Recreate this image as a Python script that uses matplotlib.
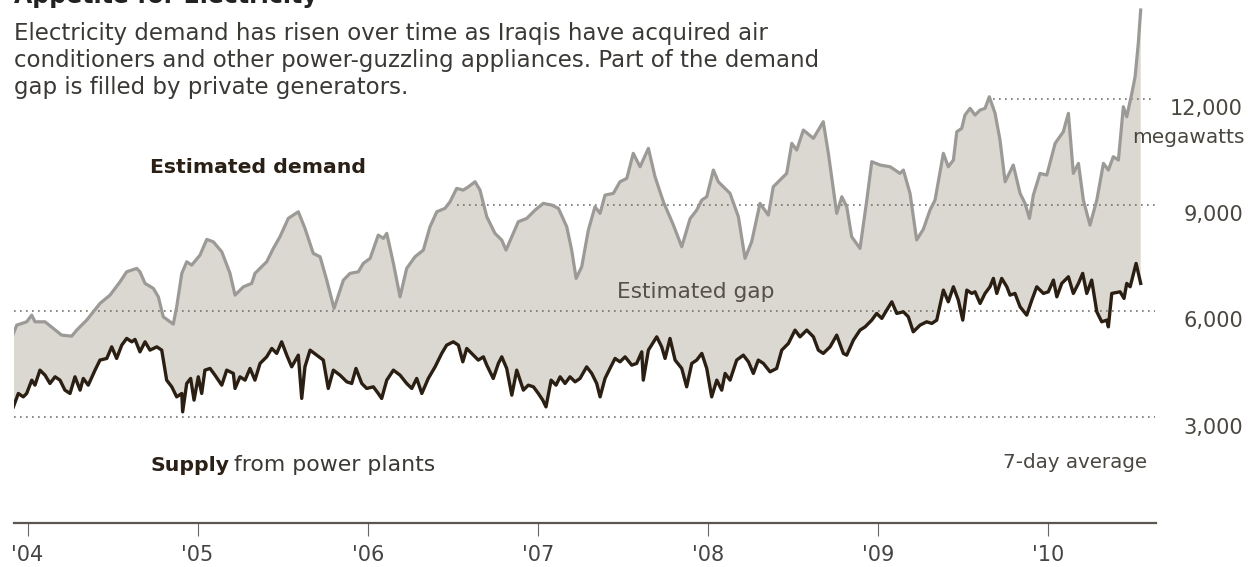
import matplotlib.pyplot as plt

W, H = 1248, 567

# estimated demand, 7-day average (megawatts)
demand_year = [2003.917, 2003.937, 2003.995, 2004.025, 2004.044, 2004.103, 2004.152, 2004.201,
               2004.260, 2004.289, 2004.348, 2004.426, 2004.485, 2004.544, 2004.583, 2004.642,
               2004.661, 2004.691, 2004.740, 2004.769, 2004.798, 2004.857, 2004.877, 2004.907,
               2004.936, 2004.965, 2005.014, 2005.054, 2005.092, 2005.142, 2005.190, 2005.220,
               2005.269, 2005.318, 2005.337, 2005.406, 2005.445, 2005.484, 2005.533, 2005.592,
               2005.631, 2005.680, 2005.720, 2005.759, 2005.802, 2005.857, 2005.896, 2005.945,
               2005.974, 2006.014, 2006.062, 2006.092, 2006.112, 2006.151, 2006.190, 2006.229,
               2006.278, 2006.327, 2006.366, 2006.406, 2006.454, 2006.484, 2006.523, 2006.562,
               2006.591, 2006.631, 2006.660, 2006.700, 2006.748, 2006.788, 2006.813, 2006.847,
               2006.885, 2006.935, 2006.984, 2007.032, 2007.082, 2007.121, 2007.170, 2007.199,
               2007.225, 2007.258, 2007.297, 2007.336, 2007.366, 2007.395, 2007.444, 2007.483,
               2007.523, 2007.561, 2007.601, 2007.650, 2007.689, 2007.738, 2007.797, 2007.846,
               2007.895, 2007.934, 2007.964, 2007.993, 2008.032, 2008.061, 2008.091, 2008.130,
               2008.179, 2008.218, 2008.257, 2008.306, 2008.355, 2008.384, 2008.424, 2008.463,
               2008.493, 2008.522, 2008.561, 2008.620, 2008.678, 2008.708, 2008.757, 2008.787,
               2008.816, 2008.845, 2008.894, 2008.934, 2008.963, 2009.012, 2009.071, 2009.129,
               2009.149, 2009.188, 2009.227, 2009.266, 2009.306, 2009.335, 2009.384, 2009.413,
               2009.443, 2009.463, 2009.492, 2009.511, 2009.541, 2009.570, 2009.600, 2009.629,
               2009.654, 2009.688, 2009.717, 2009.747, 2009.795, 2009.835, 2009.864, 2009.890,
               2009.913, 2009.952, 2009.992, 2010.041, 2010.089, 2010.119, 2010.148, 2010.178,
               2010.207, 2010.246, 2010.286, 2010.325, 2010.354, 2010.383, 2010.413, 2010.442,
               2010.462, 2010.492, 2010.511, 2010.530, 2010.544]
demand_mw = [5355, 5590, 5683, 5872, 5683, 5683, 5496, 5306,
             5278, 5448, 5731, 6203, 6438, 6815, 7098, 7194,
             7098, 6770, 6628, 6390, 5824, 5618, 6107, 7053,
             7381, 7287, 7570, 8015, 7947, 7664, 7060, 6438,
             6674, 6770, 7053, 7381, 7760, 8088, 8609, 8796,
             8326, 7618, 7523, 6863, 6062, 6863, 7053, 7098,
             7336, 7477, 8136, 8043, 8185, 7336, 6390, 7194,
             7523, 7712, 8371, 8796, 8892, 9079, 9458, 9410,
             9500, 9645, 9410, 8655, 8185, 7995, 7712, 8088,
             8513, 8609, 8844, 9033, 8985, 8892, 8371, 7712,
             6911, 7240, 8278, 8937, 8751, 9268, 9316, 9645,
             9741, 10449, 10069, 10590, 9786, 9079, 8419, 7805,
             8600, 8844, 9127, 9221, 9976, 9645, 9503, 9316,
             8655, 7477, 7947, 9033, 8702, 9503, 9693, 9882,
             10731, 10542, 11108, 10873, 11343, 10449, 8751, 9221,
             8937, 8088, 7760, 9127, 10212, 10118, 10069, 9882,
             9976, 9316, 8000, 8300, 8850, 9127, 10449, 10069,
             10260, 11060, 11156, 11532, 11722, 11532, 11674, 11722,
             12050, 11581, 10825, 9645, 10118, 9316, 9033, 8609,
             9268, 9882, 9834, 10731, 11060, 11581, 9882, 10165,
             9127, 8419, 9127, 10165, 9976, 10354, 10260, 11768,
             11484, 12147, 12616, 13562, 14504]

# supply from power plants, 7-day average (megawatts)
supply_year = [2003.917, 2003.946, 2003.975, 2003.995, 2004.025, 2004.044, 2004.073, 2004.103,
               2004.132, 2004.162, 2004.191, 2004.220, 2004.250, 2004.279, 2004.309, 2004.328,
               2004.357, 2004.397, 2004.426, 2004.466, 2004.495, 2004.524, 2004.554, 2004.583,
               2004.613, 2004.632, 2004.661, 2004.691, 2004.720, 2004.760, 2004.789, 2004.818,
               2004.848, 2004.877, 2004.907, 2004.912, 2004.936, 2004.959, 2004.979, 2005.004,
               2005.024, 2005.043, 2005.073, 2005.102, 2005.142, 2005.171, 2005.210, 2005.220,
               2005.249, 2005.279, 2005.308, 2005.337, 2005.367, 2005.406, 2005.436, 2005.465,
               2005.494, 2005.524, 2005.553, 2005.592, 2005.612, 2005.631, 2005.661, 2005.700,
               2005.739, 2005.768, 2005.798, 2005.837, 2005.877, 2005.906, 2005.931, 2005.965,
               2005.994, 2006.033, 2006.062, 2006.082, 2006.112, 2006.151, 2006.190, 2006.229,
               2006.259, 2006.288, 2006.318, 2006.356, 2006.396, 2006.435, 2006.464, 2006.503,
               2006.533, 2006.559, 2006.582, 2006.621, 2006.650, 2006.680, 2006.700, 2006.738,
               2006.768, 2006.788, 2006.817, 2006.847, 2006.876, 2006.915, 2006.944, 2006.974,
               2007.003, 2007.029, 2007.048, 2007.078, 2007.107, 2007.131, 2007.160, 2007.189,
               2007.219, 2007.248, 2007.287, 2007.317, 2007.346, 2007.366, 2007.395, 2007.424,
               2007.454, 2007.483, 2007.513, 2007.552, 2007.581, 2007.611, 2007.620, 2007.650,
               2007.699, 2007.728, 2007.748, 2007.777, 2007.807, 2007.846, 2007.875, 2007.905,
               2007.934, 2007.964, 2007.993, 2008.022, 2008.052, 2008.081, 2008.101, 2008.130,
               2008.169, 2008.208, 2008.238, 2008.267, 2008.296, 2008.326, 2008.365, 2008.404,
               2008.434, 2008.473, 2008.512, 2008.541, 2008.581, 2008.620, 2008.649, 2008.678,
               2008.718, 2008.757, 2008.796, 2008.816, 2008.855, 2008.894, 2008.924, 2008.963,
               2008.992, 2009.022, 2009.051, 2009.081, 2009.110, 2009.149, 2009.178, 2009.207,
               2009.247, 2009.286, 2009.316, 2009.345, 2009.384, 2009.413, 2009.443, 2009.472,
               2009.498, 2009.522, 2009.551, 2009.570, 2009.600, 2009.629, 2009.658, 2009.678,
               2009.698, 2009.727, 2009.757, 2009.776, 2009.805, 2009.835, 2009.874, 2009.904,
               2009.933, 2009.972, 2010.001, 2010.031, 2010.051, 2010.080, 2010.119, 2010.148,
               2010.178, 2010.203, 2010.227, 2010.256, 2010.286, 2010.315, 2010.345, 2010.354,
               2010.374, 2010.423, 2010.446, 2010.462, 2010.482, 2010.517, 2010.544]
supply_mw = [3277, 3656, 3560, 3656, 4033, 3891, 4316, 4174,
             3939, 4127, 4033, 3750, 3656, 4127, 3750, 4081,
             3891, 4316, 4600, 4647, 4975, 4647, 5023, 5213,
             5117, 5185, 4834, 5117, 4882, 4975, 4882, 4033,
             3844, 3560, 3656, 3136, 3939, 4081, 3467, 4127,
             3656, 4316, 4364, 4174, 3891, 4316, 4223, 3798,
             4127, 4033, 4364, 4033, 4506, 4692, 4930, 4789,
             5117, 4740, 4409, 4740, 3515, 4409, 4882, 4740,
             4600, 3798, 4316, 4174, 3985, 3939, 4364, 3939,
             3798, 3844, 3656, 3515, 4033, 4316, 4174, 3939,
             3798, 4081, 3656, 4081, 4409, 4789, 5023, 5117,
             5023, 4551, 4930, 4740, 4600, 4692, 4457, 4081,
             4506, 4692, 4364, 3608, 4316, 3750, 3891, 3844,
             3656, 3467, 3277, 4033, 3891, 4127, 3939, 4127,
             3985, 4081, 4409, 4223, 3939, 3560, 4081, 4364,
             4647, 4551, 4692, 4457, 4506, 4834, 4033, 4882,
             5258, 4975, 4647, 5213, 4600, 4364, 3844, 4506,
             4600, 4789, 4364, 3560, 4033, 3750, 4223, 4033,
             4600, 4740, 4551, 4223, 4600, 4506, 4268, 4364,
             4882, 5071, 5448, 5258, 5448, 5258, 4882, 4789,
             4975, 5306, 4789, 4740, 5165, 5448, 5541, 5731,
             5920, 5779, 6014, 6249, 5920, 5966, 5824, 5400,
             5590, 5683, 5637, 5731, 6580, 6249, 6674, 6297,
             5731, 6580, 6486, 6532, 6203, 6486, 6674, 6911,
             6486, 6911, 6674, 6438, 6486, 6107, 5872, 6297,
             6674, 6486, 6532, 6863, 6390, 6770, 6957, 6486,
             6770, 7053, 6486, 6863, 5966, 5683, 5731, 5541,
             6486, 6532, 6345, 6770, 6674, 7336, 6770]

years = [2004, 2005, 2006, 2007, 2008, 2009, 2010]
year_labels = ["'04", "'05", "'06", "'07", "'08", "'09", "'10"]
grid_levels = [3000, 6000, 9000, 12000]
grid_labels = ['3,000', '6,000', '9,000', '12,000']
grid_from = [2003.92, 2003.92, 2006.525, 2009.676]

fig = plt.figure(figsize=(W / 100, H / 100), dpi=100)
plt.rcParams['font.family'] = 'DejaVu Sans'


def put(x, y, s, **kw):
    # place text using pixel coordinates measured from the top-left corner
    fig.text(x / W, 1 - y / H, s, **kw)


ax = fig.add_axes([14 / W, (H - 522.7) / H, 1142 / W, 522.7 / H])
ax.set_xlim(2003.9206, 2010.634)
ax.set_ylim(0, 14787)

ax.fill(demand_year + supply_year[::-1], demand_mw + supply_mw[::-1],
        color='#dbd8d2', lw=0, zorder=1)
for lvl, x0 in zip(grid_levels, grid_from):
    ax.hlines(lvl, x0, 2010.628, colors='#77726b', lw=1.2,
              linestyles=(0, (1, 2.6)), zorder=2)
ax.plot(demand_year, demand_mw, color='#9c9a97', lw=2.3, zorder=3)
ax.plot(supply_year, supply_mw, color='#2a1f12', lw=2.4, zorder=4)

for s in ['top', 'left', 'right']:
    ax.spines[s].set_visible(False)
ax.spines['bottom'].set_color('#5b5650')
ax.spines['bottom'].set_linewidth(1.6)
ax.set_yticks([])
ax.set_xticks(years, year_labels)
ax.tick_params(axis='x', length=9.7, width=0.8, color='#666', pad=6,
               labelsize=15, labelcolor='#444')
ax.patch.set_alpha(0)

# value labels on the right
for lvl, lab in zip(grid_levels, grid_labels):
    y_px = 416.5 - (lvl - 3000) / 28.3
    put(1243, y_px + 17, lab, ha='right', va='baseline', size=15, color='#4a4640')
put(1245, 143, 'megawatts', ha='right', va='baseline', size=14.5, color='#4a4640')

# title (cut off at the top, as in the original) and intro
put(14, 3, 'Appetite for Electricity', weight='bold', size=17, color='#222')
intro = ['Electricity demand has risen over time as Iraqis have acquired air',
         'conditioners and other power-guzzling appliances. Part of the demand',
         'gap is filled by private generators.']
for i, line in enumerate(intro):
    put(14, 40 + 27 * i, line, size=16.5, color='#3b3935', va='baseline')

put(150, 173, 'Estimated demand', weight='bold', size=14.7, color='#2a2016', va='baseline')
put(696, 298, 'Estimated gap', ha='center', size=15.6, color='#55504a', va='baseline')
put(150, 471, 'Supply', weight='bold', size=14.7, color='#2a2016', va='baseline')
put(234, 471, 'from power plants', size=15.8, color='#3b3935', va='baseline')
put(1147, 468, '7-day average', ha='right', size=14.3, color='#4a4640', va='baseline')

fig.savefig('out.png', dpi=100)
